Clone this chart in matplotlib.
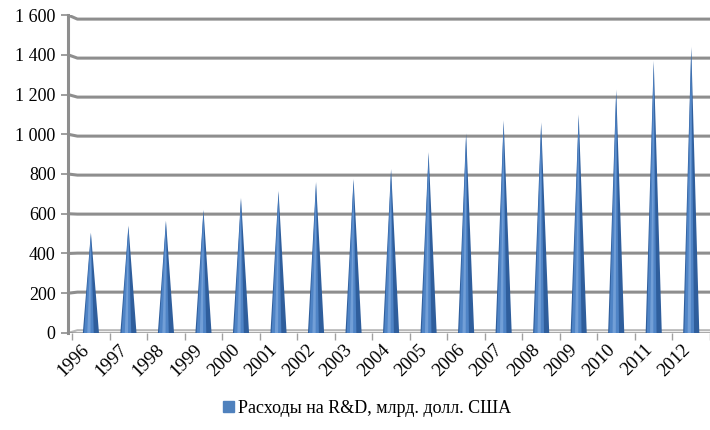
import numpy as np
import matplotlib
matplotlib.use("Agg")
import matplotlib.pyplot as plt
import matplotlib.transforms as mtransforms

years = ["1996", "1997", "1998", "1999", "2000", "2001", "2002", "2003", "2004",
         "2005", "2006", "2007", "2008", "2009", "2010", "2011", "2012"]
spend = [505, 540, 565, 620, 680, 715, 760, 775, 825,
         910, 1005, 1070, 1060, 1100, 1225, 1370, 1440]
yticks = [0, 200, 400, 600, 800, 1000, 1200, 1400, 1600]
legend_label = "Расходы на R&D, млрд. долл. США"

plt.rcParams['font.family'] = ['Liberation Serif', 'DejaVu Serif']

fig = plt.figure(figsize=(7.1, 4.3), dpi=100)
ax = fig.add_axes([0.0958, 0.2256, 0.9042, 0.7395])

n = len(years)
x = np.arange(n)
grid_col = "#8e8e8e"
x0 = -0.61

# back wall grid lines with a little 3D step at the left
for v in yticks[1:]:
    drop = 30 * (v - 500) / 1600
    ax.plot([x0, x0 + 0.25, n - 0.5], [v, v - drop, v - drop],
            color=grid_col, lw=2.2, solid_capstyle="butt", zorder=1)

# floor
ax.plot([x0, x0 + 0.25, n - 0.5], [0, 14, 14], color="#b8b8b8", lw=1.5, zorder=1)
ax.plot([x0, n - 0.5], [0, 0], color=grid_col, lw=1.8, zorder=1)

# cones
hw = 0.215
for xi, v in zip(x, spend):
    ax.fill([xi - hw, xi, xi + hw], [0, v, 0], color="#2f5e9c", lw=0, zorder=3)
    ax.fill([xi - hw * 0.85, xi, xi + hw * 0.35], [0, v * 0.99, 0],
            color="#4f84c6", lw=0, zorder=4)
    ax.fill([xi - hw * 0.45, xi, xi - hw * 0.05], [0, v * 0.9, 0],
            color="#7ba6dc", lw=0, zorder=5, alpha=0.8)

ax.set_xlim(x0, n - 0.5)
ax.set_ylim(0, 1600)

ax.set_yticks(yticks)
ax.set_yticklabels([f"{v:,}".replace(",", " ") for v in yticks], fontsize=13)

# year labels, placed a bit left of the cone like in the source chart
ax.set_xticks(np.arange(n + 1) - 0.5)
ax.set_xticklabels([])
ax.tick_params(axis="x", length=5, color="#a0a0a0", width=1)
shift = mtransforms.ScaledTranslation(-0.04, -0.14, fig.dpi_scale_trans)
for xi, yr in zip(x, years):
    ax.text(xi, 0, yr, transform=ax.get_xaxis_transform() + shift,
            rotation=45, ha="right", va="center", rotation_mode="anchor",
            fontsize=13.5)
ax.tick_params(axis="y", length=5, color=grid_col, width=1.2, pad=4)

for s in ["top", "right", "bottom"]:
    ax.spines[s].set_visible(False)
ax.spines["left"].set_color(grid_col)
ax.spines["left"].set_linewidth(2.2)

handle = plt.Rectangle((0, 0), 1, 1, color="#4f81bd")
fig.legend([handle], [legend_label], loc="center", bbox_to_anchor=(0.517, 0.05),
           frameon=False, fontsize=13, handlelength=0.6, handleheight=0.6,
           handletextpad=0.25)

fig.savefig("out.png", dpi=100)
